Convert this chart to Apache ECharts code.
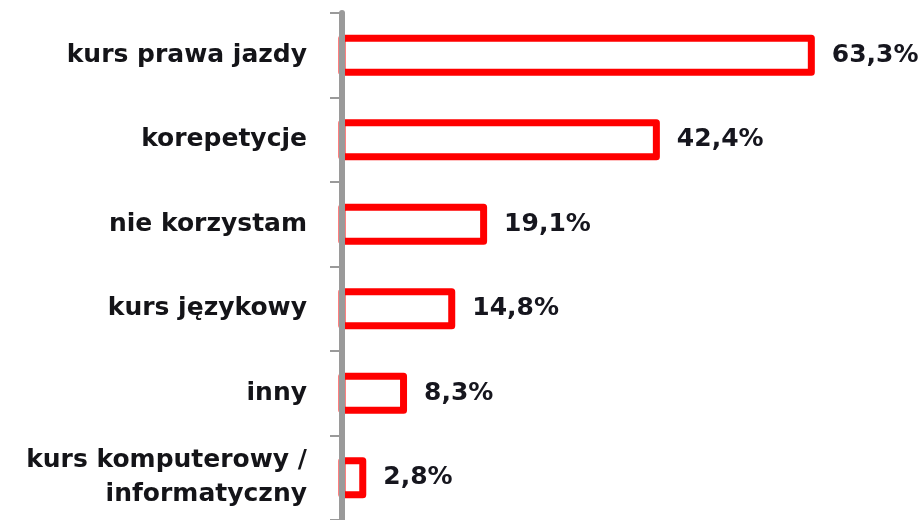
<!DOCTYPE html>
<html>
<head>
<meta charset="utf-8">
<script src="https://cdn.jsdelivr.net/npm/echarts@6/dist/echarts.min.js"></script>
<style>
  html, body { margin: 0; padding: 0; background: #ffffff; }
  #chart { width: 921px; height: 520px; }
</style>
</head>
<body>
<div id="chart"></div>
<script>
// Forms of extra education used (share of respondents, %)
const categories = [
  'kurs prawa jazdy',
  'korepetycje',
  'nie korzystam',
  'kurs językowy',
  'inny',
  'kurs komputerowy /\ninformatyczny'
];
const shares = [63.3, 42.4, 19.1, 14.8, 8.3, 2.8];

const chart = echarts.init(document.getElementById('chart'), null, { renderer: 'canvas' });

const textFont = 'DejaVu Sans';
const barThickness = 34;   // outline rectangle height (stroke centred on it)
const outlineWidth = 7;
const labelGap = 17;

const formatShare = v => v.toFixed(1).replace('.', ',') + '%';

// Outlined bars: the stroke sits centred on the bar edge, so the left side
// tucks under the category axis line.
function renderOutlinedBar(params, api) {
  const v = api.value(0);
  const idx = api.value(1);
  const base = api.coord([0, idx]);
  const tip = api.coord([v, idx]);
  return {
    type: 'group',
    children: [
      {
        type: 'rect',
        shape: {
          x: base[0],
          y: base[1] - barThickness / 2,
          width: tip[0] - base[0],
          height: barThickness
        },
        style: {
          fill: '#ffffff',
          stroke: '#ff0000',
          lineWidth: outlineWidth,
          lineJoin: 'round'
        }
      },
      {
        type: 'text',
        x: tip[0] + outlineWidth / 2 + labelGap,
        y: tip[1],
        style: {
          text: formatShare(v),
          fill: '#16161e',
          font: 'bold 25px "' + textFont + '"',
          align: 'left',
          verticalAlign: 'middle'
        }
      }
    ]
  };
}

chart.setOption({
  animation: false,
  grid: { left: 342, top: 13, width: 519, height: 514, containLabel: false },
  xAxis: {
    type: 'value',
    min: 0,
    max: 70,
    show: false
  },
  yAxis: {
    type: 'category',
    data: categories,
    inverse: true,
    offset: 2,
    z: 10,
    axisLine: { show: true, lineStyle: { color: '#9a9a9a', width: 6 } },
    axisTick: { show: true, length: 12, lineStyle: { color: '#9a9a9a', width: 2 } },
    axisLabel: {
      margin: 33,
      color: '#141418',
      fontFamily: textFont,
      fontWeight: 'bold',
      fontSize: 25,
      lineHeight: 34,
      align: 'right'
    },
    splitLine: { show: false }
  },
  series: [{
    type: 'custom',
    data: shares.map((v, i) => [v, i]),
    encode: { x: 0, y: 1 },
    renderItem: renderOutlinedBar,
    z: 2
  }]
});
</script>
</body>
</html>
